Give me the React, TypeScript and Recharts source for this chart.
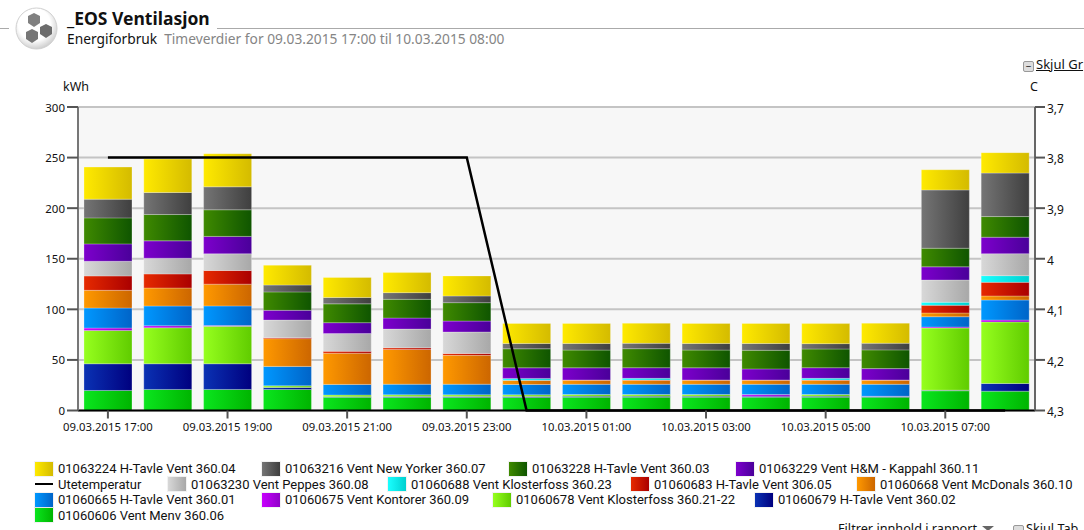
import React from "react";
import { Bar, CartesianGrid, ComposedChart, Line, XAxis, YAxis } from "recharts";

const hours = [
  "09.03.2015 17:00", "09.03.2015 18:00", "09.03.2015 19:00", "09.03.2015 20:00",
  "09.03.2015 21:00", "09.03.2015 22:00", "09.03.2015 23:00", "10.03.2015 00:00",
  "10.03.2015 01:00", "10.03.2015 02:00", "10.03.2015 03:00", "10.03.2015 04:00",
  "10.03.2015 05:00", "10.03.2015 06:00", "10.03.2015 07:00", "10.03.2015 08:00",
];

// kWh per meter, bottom of the stack first
const menv = [19.8, 20.8, 20.8, 20.8, 13.2, 12.9, 12.9, 12.9, 13.2, 13.2, 13.2, 13.2, 13.2, 13.2, 19.5, 19.1];
const hTavle02 = [26.4, 25.4, 25.4, 2, 0.4, 1, 1, 1, 1, 1, 1, 1, 1, 0.6, 0.6, 7.6];
const klosterfoss2122 = [33, 35.6, 37, 1.6, 1.7, 1.6, 1.6, 1.6, 1.6, 1.6, 1.6, 0, 1.6, 0, 61.4, 60.8];
const kontorer = [2.3, 2, 0.7, 0, 0, 0, 0, 0, 0, 0, 0, 1.6, 0, 0.3, 1, 1.9];
const hTavle01 = [19.8, 19.5, 19.5, 19.2, 10.5, 10.5, 10.5, 10.2, 10.1, 10.1, 10.1, 10.1, 10.1, 11.8, 10.2, 19.8];
const mcDonals = [17.5, 17.8, 21.5, 27.4, 30.8, 34.4, 28.5, 4, 4, 4, 4, 4, 4, 4, 3.7, 4];
const hTavle05 = [14.2, 13.9, 13.5, 1, 1.9, 1.6, 1.9, 0.3, 0.3, 0.3, 0.3, 0.3, 0.3, 0.3, 7.6, 13.5];
const klosterfoss23 = [0, 0, 0, 0, 0, 0, 0, 1.7, 0, 1.6, 0, 0, 1.6, 0, 3, 6.6];
const peppes = [14.5, 15.5, 16.5, 17.4, 17.5, 18.5, 21.2, 0, 0, 0, 0, 0, 0, 0, 22, 21.7];
const kappahl = [17.2, 17.2, 17.2, 9.6, 10.8, 10.9, 10.8, 10.5, 12, 10.5, 12, 10.9, 10.5, 11.2, 13, 16.3];
const hTavle03 = [25.7, 26, 26.3, 18.2, 18.6, 18.5, 18.2, 18.8, 17.5, 18.8, 17.5, 18.4, 18.5, 18.5, 18.4, 20.4];
const newYorker = [18.5, 21.8, 22.7, 6.8, 6.3, 6.6, 6.6, 5.3, 6.6, 5.3, 6.6, 6.7, 5.3, 6.6, 57.6, 43];
const hTavle04 = [31.7, 33, 32.8, 19.6, 19.8, 19.8, 19.8, 19.8, 19.8, 19.8, 19.8, 19.8, 19.8, 19.8, 20, 20.2];
const utetemperatur = [3.8, 3.8, 3.8, 3.8, 3.8, 3.8, 3.8, 4.3, 4.3, 4.3, 4.3, 4.3, 4.3, 4.3, 4.3, 4.3];

const kwhTicks = [0, 50, 100, 150, 200, 250, 300];
const tempTicks = [3.7, 3.8, 3.9, 4, 4.1, 4.2, 4.3];

const meters = [
  { key: "menv", name: "01060606 Vent Menv 360.06", values: menv, from: "#0ae61e", to: "#00b400" },
  { key: "hTavle02", name: "01060679 H-Tavle Vent 360.02", values: hTavle02, from: "#0a32b4", to: "#00007f" },
  { key: "klosterfoss2122", name: "01060678 Vent Klosterfoss 360.21-22", values: klosterfoss2122, from: "#96ff1e", to: "#60cc00" },
  { key: "kontorer", name: "01060675 Vent Kontorer 360.09", values: kontorer, from: "#c800ff", to: "#9000c8" },
  { key: "hTavle01", name: "01060665 H-Tavle Vent 360.01", values: hTavle01, from: "#0098ff", to: "#0064c8" },
  { key: "mcDonals", name: "01060668 Vent McDonals 360.10", values: mcDonals, from: "#ff9900", to: "#cc6600" },
  { key: "hTavle05", name: "01060683 H-Tavle Vent 306.05", values: hTavle05, from: "#e62a00", to: "#aa0000" },
  { key: "klosterfoss23", name: "01060688 Vent Klosterfoss 360.23", values: klosterfoss23, from: "#1affff", to: "#00d0d0" },
  { key: "peppes", name: "01063230 Vent Peppes 360.08", values: peppes, from: "#d8d8d8", to: "#a8a8a8" },
  { key: "kappahl", name: "01063229 Vent H&M - Kappahl 360.11", values: kappahl, from: "#7d00cc", to: "#4a009a" },
  { key: "hTavle03", name: "01063228 H-Tavle Vent 360.03", values: hTavle03, from: "#3f8a00", to: "#0f5500" },
  { key: "newYorker", name: "01063216 Vent New Yorker 360.07", values: newYorker, from: "#757575", to: "#3f3f3f" },
  { key: "hTavle04", name: "01063224 H-Tavle Vent 360.04", values: hTavle04, from: "#ffea00", to: "#d4bb00" },
];

const data = hours.map((hour, i) => {
  const row: Record<string, string | number> = { hour, temp: utetemperatur[i] };
  meters.forEach((m) => {
    row[m.key] = m.values[i];
  });
  return row;
});

// legend rows: which series, and where each entry starts
const legendRows = [
  ["hTavle04", "newYorker", "hTavle03", "kappahl"],
  ["temp", "peppes", "klosterfoss23", "hTavle05", "mcDonals"],
  ["hTavle01", "kontorer", "klosterfoss2122", "hTavle02"],
  ["menv"],
];
const legendLeft = [
  [35, 262, 509, 736],
  [35, 168, 388, 631, 857],
  [35, 262, 493, 755],
  [35],
];

const uiFont = "'Noto Sans', sans-serif";

function LegendItem({ id, left }: { id: string; left: number }) {
  const meter = meters.find((m) => m.key === id);
  return (
    <span style={{ position: "absolute", left, top: 0, display: "inline-flex", alignItems: "center", height: 15.5 }}>
      {meter ? (
        <span
          style={{
            width: 18,
            height: 14,
            marginRight: 5,
            boxShadow: "0 0 0 1px rgba(0,0,0,0.05)",
            background: `linear-gradient(to right, ${meter.from}, ${meter.to})`,
          }}
        />
      ) : (
        <span style={{ width: 18, height: 2, marginRight: 5, background: "#000" }} />
      )}
      {meter ? meter.name : "Utetemperatur"}
    </span>
  );
}

function Logo() {
  return (
    <svg width={46} height={46} style={{ position: "absolute", left: 13, top: 5 }}>
      <defs>
        <radialGradient id="logoFace" cx="0.45" cy="0.4" r="0.65">
          <stop offset="60%" stopColor="#ffffff" />
          <stop offset="100%" stopColor="#c4c4c4" />
        </radialGradient>
      </defs>
      <circle cx={23.5} cy={23.5} r={20.5} fill="url(#logoFace)" stroke="#d0d0d0" />
      <polygon points="21,8 27,11 27,18 21,22 15,18 15,11" fill="#808080" />
      <polygon points="33,19 39,22 39,29 33,33 27,29 27,22" fill="#6c6c6c" />
      <polygon points="19,24 25,27 25,34 19,38 13,34 13,27" fill="#767676" />
    </svg>
  );
}

export default function App() {
  return (
    <div
      style={{
        position: "absolute",
        left: 0,
        top: 0,
        width: 1084,
        height: 530,
        overflow: "hidden",
        background: "#fff",
        fontFamily: uiFont,
        color: "#111",
      }}
    >
      <div style={{ position: "absolute", left: 0, top: 28, width: 9, height: 1, background: "#aaa" }} />
      <div style={{ position: "absolute", left: 217, top: 28, right: 0, height: 1, background: "#aaa" }} />
      <Logo />
      <div style={{ position: "absolute", left: 67, top: 5, fontSize: 17.5, fontWeight: 700, lineHeight: "26px" }}>
        _EOS Ventilasjon
      </div>
      <div style={{ position: "absolute", left: 67, top: 29, fontSize: 13.75, lineHeight: "19px", whiteSpace: "nowrap" }}>
        Energiforbruk
        <span style={{ color: "#858585", marginLeft: 7 }}>
          Timeverdier for 09.03.2015 17:00 til 10.03.2015 08:00
        </span>
      </div>

      <div
        style={{
          position: "absolute",
          left: 1023,
          top: 61,
          width: 9,
          height: 9,
          border: "1px solid #999",
          borderRadius: 2,
          background: "#ddd",
          fontSize: 10,
          lineHeight: "8px",
          textAlign: "center",
        }}
      >
        −
      </div>
      <div style={{ position: "absolute", left: 1036, top: 56, fontSize: 13, lineHeight: "17px", textDecoration: "underline", whiteSpace: "nowrap" }}>
        Skjul Gr
      </div>
      <div style={{ position: "absolute", left: 63, top: 78, fontSize: 12.5, lineHeight: "17px" }}>kWh</div>
      <div style={{ position: "absolute", left: 1030, top: 78, fontSize: 12.5, lineHeight: "17px" }}>C</div>

      <div style={{ position: "absolute", left: 0, top: 0 }}>
        <ComposedChart
          width={1084}
          height={440}
          data={data}
          barCategoryGap="10%"
          margin={{ top: 107, right: 0, bottom: 0, left: 0 }}
          style={{ fontFamily: uiFont }}
        >
          <defs>
            {meters.map((m) => (
              <linearGradient key={m.key} id={`fill-${m.key}`} x1="0" y1="0" x2="1" y2="0">
                <stop offset="0%" stopColor={m.from} />
                <stop offset="100%" stopColor={m.to} />
              </linearGradient>
            ))}
          </defs>
          <CartesianGrid vertical={false} yAxisId="kwh" fill="#f7f7f7" stroke="#c4c4c4" strokeWidth={2} />
          <XAxis
            dataKey="hour"
            interval={1}
            height={29.5}
            tickSize={8}
            tick={{ fontSize: 11.3, fill: "#111", dy: 2.5 }}
            tickLine={{ stroke: "#555", strokeWidth: 2 }}
            axisLine={{ stroke: "#000", strokeWidth: 2 }}
          />
          <YAxis
            yAxisId="kwh"
            width={78}
            domain={[0, 300]}
            ticks={kwhTicks}
            tickSize={11}
            tick={{ fontSize: 11.5, fill: "#111", dy: 0.5 }}
            tickLine={{ stroke: "#555", strokeWidth: 2 }}
            axisLine={{ stroke: "#777", strokeWidth: 2 }}
          />
          <YAxis
            yAxisId="temp"
            orientation="right"
            width={49}
            reversed
            domain={[3.7, 4.3]}
            ticks={tempTicks}
            tickSize={10}
            tickFormatter={(v: number) => String(v).replace(".", ",")}
            tick={{ fontSize: 12, fill: "#111", dy: 1.5 }}
            tickLine={{ stroke: "#555", strokeWidth: 2 }}
            axisLine={{ stroke: "#666", strokeWidth: 2 }}
          />
          {meters.map((m) => (
            <Bar
              key={m.key}
              yAxisId="kwh"
              dataKey={m.key}
              name={m.name}
              stackId="kwh"
              fill={`url(#fill-${m.key})`}
              stroke="rgba(255,255,255,0.25)"
              isAnimationActive={false}
            />
          ))}
          <Line
            yAxisId="temp"
            dataKey="temp"
            name="Utetemperatur"
            type="linear"
            stroke="#000"
            strokeWidth={2.5}
            dot={false}
            isAnimationActive={false}
          />
        </ComposedChart>
      </div>

      <div style={{ position: "absolute", left: 0, top: 461, width: 1084, fontFamily: "Roboto, sans-serif", fontSize: 13, lineHeight: "15px", whiteSpace: "nowrap" }}>
        {legendRows.map((row, i) => (
          <div key={i} style={{ position: "absolute", left: 0, top: i * 15.5 }}>
            {row.map((id, j) => (
              <LegendItem key={id} id={id} left={legendLeft[i][j]} />
            ))}
          </div>
        ))}
      </div>

      <div style={{ position: "absolute", left: 838, top: 520, fontSize: 12.7, lineHeight: "17px", whiteSpace: "nowrap" }}>
        Filtrer innhold i rapport
      </div>
      <div
        style={{
          position: "absolute",
          left: 982,
          top: 526,
          width: 0,
          height: 0,
          borderLeft: "6px solid transparent",
          borderRight: "6px solid transparent",
          borderTop: "5px solid #666",
        }}
      />
      <div style={{ position: "absolute", left: 1013, top: 525, width: 9, height: 9, border: "1px solid #999", borderRadius: 2, background: "#ddd" }} />
      <div style={{ position: "absolute", left: 1026, top: 520, fontSize: 12.7, lineHeight: "17px", textDecoration: "underline", whiteSpace: "nowrap" }}>
        Skjul Tab
      </div>
    </div>
  );
}
